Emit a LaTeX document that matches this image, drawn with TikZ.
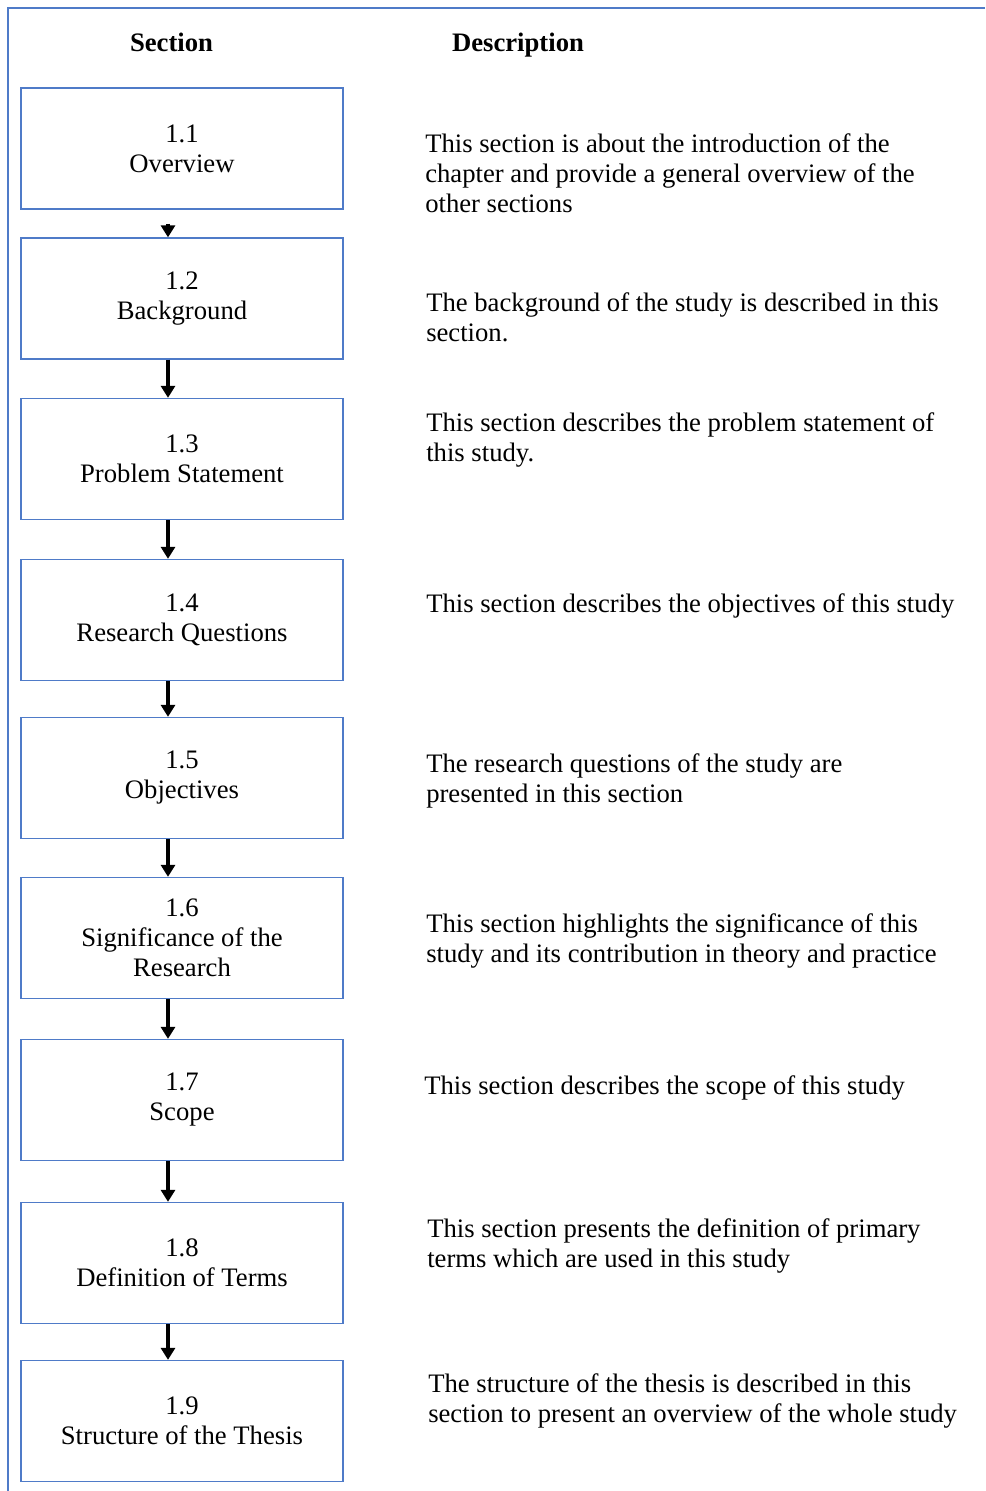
\documentclass[tikz,border=0pt]{standalone}
\usepackage{fontspec}
\setmainfont{Liberation Serif}
\usetikzlibrary{arrows.meta}
\definecolor{boxblue}{RGB}{79,123,200}
\begin{document}
\begin{tikzpicture}[x=0.75pt,y=-0.75pt,
  font=\fontsize{20pt}{22.5pt}\selectfont,
  secbox/.style={draw=boxblue,line width=1pt,minimum width=241.5pt,minimum height=90.75pt,align=center,inner sep=0pt},
  desc/.style={anchor=base west,align=left,inner sep=0pt},
  head/.style={anchor=base,inner sep=0pt,font=\fontsize{20pt}{22.5pt}\selectfont\bfseries},
  flow/.style={-{Triangle[width=10.5pt,length=9pt]},line width=2.6pt,black},
  frameline/.style={draw=boxblue,line width=1.5pt}]
\useasboundingbox (0,0) rectangle (985,1491);
% frame
\coordinate (tl) at (8,8);
\coordinate (tr) at (985,8);
\coordinate (bl) at (8,1491);
\draw[frameline] (tr) -- (tl) -- (bl);
% headers
\node[head] (hsec) at (171.5,52) {Section};
\node[head] (hdesc) at (518,52) {Description};
% section boxes
\node[secbox] (b1) at (182,148.5) {1.1\\Overview};
\node[secbox] (b2) at (182,298.5) {1.2\\Background};
\node[secbox] (b3) at (182,459) {1.3\\Problem Statement};
\node[secbox] (b4) at (182,620) {1.4\\Research Questions};
\node[secbox] (b5) at (182,778) {1.5\\Objectives};
\node[secbox] (b6) at (182,938) {1.6\\Significance of the\\Research};
\node[secbox] (b7) at (182,1100) {1.7\\Scope};
\node[secbox] (b8) at (182,1263) {1.8\\Definition of Terms};
\node[secbox] (b9) at (182,1421) {1.9\\Structure of the Thesis};
% arrows
\draw[flow] ([xshift=-10.5pt,yshift=-10.5pt]b1.south) -- ([xshift=-10.5pt]b2.north);
\draw[flow] ([xshift=-10.5pt]b2.south) -- ([xshift=-10.5pt]b3.north);
\draw[flow] ([xshift=-10.5pt]b3.south) -- ([xshift=-10.5pt]b4.north);
\draw[flow] ([xshift=-10.5pt]b4.south) -- ([xshift=-10.5pt]b5.north);
\draw[flow] ([xshift=-10.5pt]b5.south) -- ([xshift=-10.5pt]b6.north);
\draw[flow] ([xshift=-10.5pt]b6.south) -- ([xshift=-10.5pt]b7.north);
\draw[flow] ([xshift=-10.5pt]b7.south) -- ([xshift=-10.5pt]b8.north);
\draw[flow] ([xshift=-10.5pt]b8.south) -- ([xshift=-10.5pt]b9.north);
% descriptions (base anchor = baseline of last line)
\node[desc] (d1) at (425,212) {This section is about the introduction of the\\chapter and provide a general overview of the\\other sections};
\node[desc] (d2) at (426,341) {The background of the study is described in this\\section.};
\node[desc] (d3) at (426,461) {This section describes the problem statement of\\this study.};
\node[desc] (d4) at (426,612) {This section describes the objectives of this study};
\node[desc] (d5) at (426,802) {The research questions of the study are\\presented in this section};
\node[desc] (d6) at (426,962) {This section highlights the significance of this\\study and its contribution in theory and practice};
\node[desc] (d7) at (424,1094) {This section describes the scope of this study};
\node[desc] (d8) at (427,1267) {This section presents the definition of primary\\terms which are used in this study};
\node[desc] (d9) at (428,1422) {The structure of the thesis is described in this\\section to present an overview of the whole study};
\end{tikzpicture}
\end{document}
